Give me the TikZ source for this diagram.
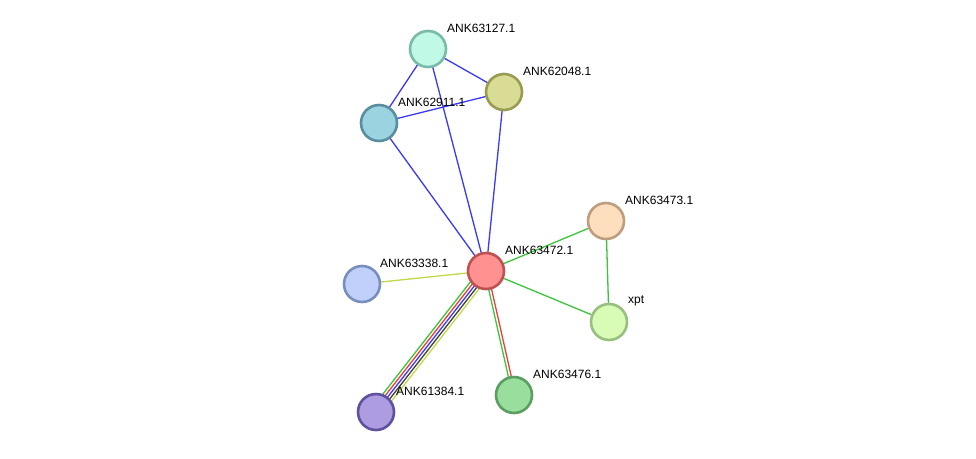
\documentclass[tikz,border=0pt]{standalone}
\usepackage{fontspec}
\setmainfont{Liberation Sans}
\pgfdeclarelayer{bg}
\pgfsetlayers{bg,main}
\definecolor{eblue}{HTML}{3A3AF5}
\definecolor{egreen}{HTML}{3CC43C}
\definecolor{ered}{HTML}{F03C3C}
\definecolor{eyel}{HTML}{C2D84A}
\definecolor{eblack}{HTML}{404040}
\tikzset{
  prot/.style={circle, minimum size=36pt, inner sep=0pt, line width=2.6pt},
  lbl/.style={anchor=west, inner sep=0pt, font=\fontsize{12}{14}\selectfont, text=black},
  edge/.style={line width=1.3pt}
}
\begin{document}
\begin{tikzpicture}[x=1pt,y=-1pt]
\useasboundingbox (0,0) rectangle (976,458);
\node[prot, fill={rgb,255:red,192;green,250;blue,230}, draw={rgb,255:red,122;green,186;blue,168}] (a) at (428,49) {};
\node[prot, fill={rgb,255:red,216;green,220;blue,148}, draw={rgb,255:red,152;green,156;blue,82}] (b) at (504,92) {};
\node[prot, fill={rgb,255:red,155;green,211;blue,224}, draw={rgb,255:red,88;green,142;blue,160}] (c) at (379,123) {};
\node[prot, fill={rgb,255:red,253;green,223;blue,190}, draw={rgb,255:red,190;green,158;blue,126}] (d) at (606,221) {};
\node[prot, fill={rgb,255:red,255;green,145;blue,145}, draw={rgb,255:red,190;green,82;blue,82}] (e) at (486,271) {};
\node[prot, fill={rgb,255:red,192;green,208;blue,250}, draw={rgb,255:red,122;green,142;blue,190}] (f) at (362,284) {};
\node[prot, fill={rgb,255:red,216;green,251;blue,182}, draw={rgb,255:red,152;green,190;blue,128}] (g) at (609,322) {};
\node[prot, fill={rgb,255:red,174;green,156;blue,224}, draw={rgb,255:red,96;green,80;blue,160}] (h) at (376,412) {};
\node[prot, fill={rgb,255:red,154;green,222;blue,158}, draw={rgb,255:red,90;green,158;blue,96}] (i) at (514,395) {};

\node[lbl] (la) at ([shift={(19,-21)}]a.center) {ANK63127.1};
\node[lbl] (lb) at ([shift={(19,-21)}]b.center) {ANK62048.1};
\node[lbl] (lc) at ([shift={(19,-21)}]c.center) {ANK62911.1};
\node[lbl] (ld) at ([shift={(19,-21)}]d.center) {ANK63473.1};
\node[lbl] (le) at ([shift={(19,-21)}]e.center) {ANK63472.1};
\node[lbl] (lf) at ([shift={(18,-21)}]f.center) {ANK63338.1};
\node[lbl] (lg) at ([shift={(19,-21)}]g.center) {xpt};
\node[lbl] (lh) at ([shift={(20,-21)}]h.center) {ANK61384.1};
\node[lbl] (li) at ([shift={(19,-21)}]i.center) {ANK63476.1};

\begin{pgfonlayer}{bg}
\fill[white] (0,0) rectangle (976,458);
\draw[edge, eblue] (a.center) -- (c.center);
\draw[edge, eblue] (a.center) -- (b.center);
\draw[edge, eblue] (a.center) -- (e.center);
\draw[edge, eblue] (c.center) -- (b.center);
\draw[edge, eblue] (c.center) -- (e.center);
\draw[edge, eblue] (b.center) -- (e.center);
\draw[edge, egreen] (e.center) -- (d.center);
\draw[edge, egreen] (e.center) -- (g.center);
\draw[edge, egreen] (d.center) -- (g.center);
\draw[edge, eyel] (f.center) -- (e.center);
% multi edge e-h
\foreach \o/\c in {-2/egreen,-1/ered,0/eblue,1/eblack,2/eyel}{
  \draw[edge, \c] ([shift={({\o*2.8*0.789},{\o*2.8*0.615})}]e.center) -- ([shift={({\o*2.8*0.789},{\o*2.8*0.615})}]h.center);
}
% double edge e-i
\draw[edge, egreen] ([shift={(-1.4,0.32)}]e.center) -- ([shift={(-1.4,0.32)}]i.center);
\draw[edge, ered] ([shift={(1.4,-0.32)}]e.center) -- ([shift={(1.4,-0.32)}]i.center);
\end{pgfonlayer}
\end{tikzpicture}
\end{document}
